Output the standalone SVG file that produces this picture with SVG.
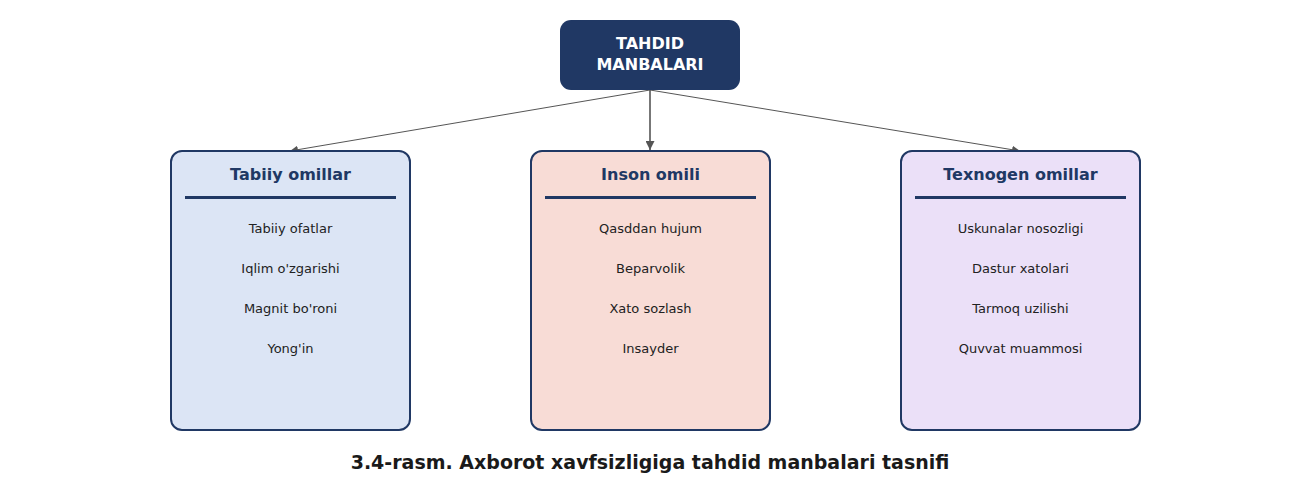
<svg xmlns="http://www.w3.org/2000/svg" width="1300" height="485" viewBox="0 0 1300 485">
<defs>
<marker id="arr" viewBox="0 0 10 10" refX="10" refY="5" markerWidth="8" markerHeight="8" markerUnits="userSpaceOnUse" orient="auto">
<path d="M0,0 L10,5 L0,10 z" fill="#555"/>
</marker>
<marker id="arr2" viewBox="0 0 10 10" refX="10" refY="5" markerWidth="9" markerHeight="9" markerUnits="userSpaceOnUse" orient="auto">
<path d="M0,0 L10,5 L0,10 z" fill="#555"/>
</marker>
</defs>
<style>
text{font-family:"DejaVu Sans","Liberation Sans",sans-serif;text-anchor:middle}
.root{fill:#203864}
.rt{fill:#fff;font-weight:bold;font-size:16px}
.card{stroke:#203864;stroke-width:2}
.ttl{fill:#203864;font-weight:bold;font-size:16px}
.div{stroke:#203864;stroke-width:3}
.it{fill:#222;font-size:13px}
.cap{fill:#1a1a1a;font-weight:bold;font-size:19px}
.con{stroke:#555;fill:none}
</style>
<rect width="1300" height="485" fill="#fff"/>
<g id="connectors">
<line class="con" x1="650" y1="90" x2="290" y2="151" stroke-width="1" marker-end="url(#arr)"/>
<line class="con" x1="650" y1="90" x2="650" y2="150" stroke-width="1.6" marker-end="url(#arr2)"/>
<line class="con" x1="650" y1="90" x2="1020" y2="151" stroke-width="1" marker-end="url(#arr)"/>
</g>
<g id="root">
<rect class="root" x="560" y="20" width="180" height="70" rx="11"/>
<text class="rt" x="650" y="49">TAHDID</text>
<text class="rt" x="650" y="70">MANBALARI</text>
</g>
<g id="tabiiy">
<rect class="card" x="171" y="151" width="239" height="279" rx="11" fill="#dce5f5"/>
<text class="ttl" x="290.5" y="179.5">Tabiiy omillar</text>
<line class="div" x1="185" y1="197.5" x2="396" y2="197.5"/>
<text class="it" x="290.5" y="233">Tabiiy ofatlar</text>
<text class="it" x="290.5" y="273">Iqlim o'zgarishi</text>
<text class="it" x="290.5" y="313">Magnit bo'roni</text>
<text class="it" x="290.5" y="353">Yong'in</text>
</g>
<g id="inson">
<rect class="card" x="531" y="151" width="239" height="279" rx="11" fill="#f8dcd6"/>
<text class="ttl" x="650.5" y="179.5">Inson omili</text>
<line class="div" x1="545" y1="197.5" x2="756" y2="197.5"/>
<text class="it" x="650.5" y="233">Qasddan hujum</text>
<text class="it" x="650.5" y="273">Beparvolik</text>
<text class="it" x="650.5" y="313">Xato sozlash</text>
<text class="it" x="650.5" y="353">Insayder</text>
</g>
<g id="texnogen">
<rect class="card" x="901" y="151" width="239" height="279" rx="11" fill="#ebe0f8"/>
<text class="ttl" x="1020.5" y="179.5">Texnogen omillar</text>
<line class="div" x1="915" y1="197.5" x2="1126" y2="197.5"/>
<text class="it" x="1020.5" y="233">Uskunalar nosozligi</text>
<text class="it" x="1020.5" y="273">Dastur xatolari</text>
<text class="it" x="1020.5" y="313">Tarmoq uzilishi</text>
<text class="it" x="1020.5" y="353">Quvvat muammosi</text>
</g>
<text class="cap" x="650" y="468.5">3.4-rasm. Axborot xavfsizligiga tahdid manbalari tasnifi</text>
</svg>
